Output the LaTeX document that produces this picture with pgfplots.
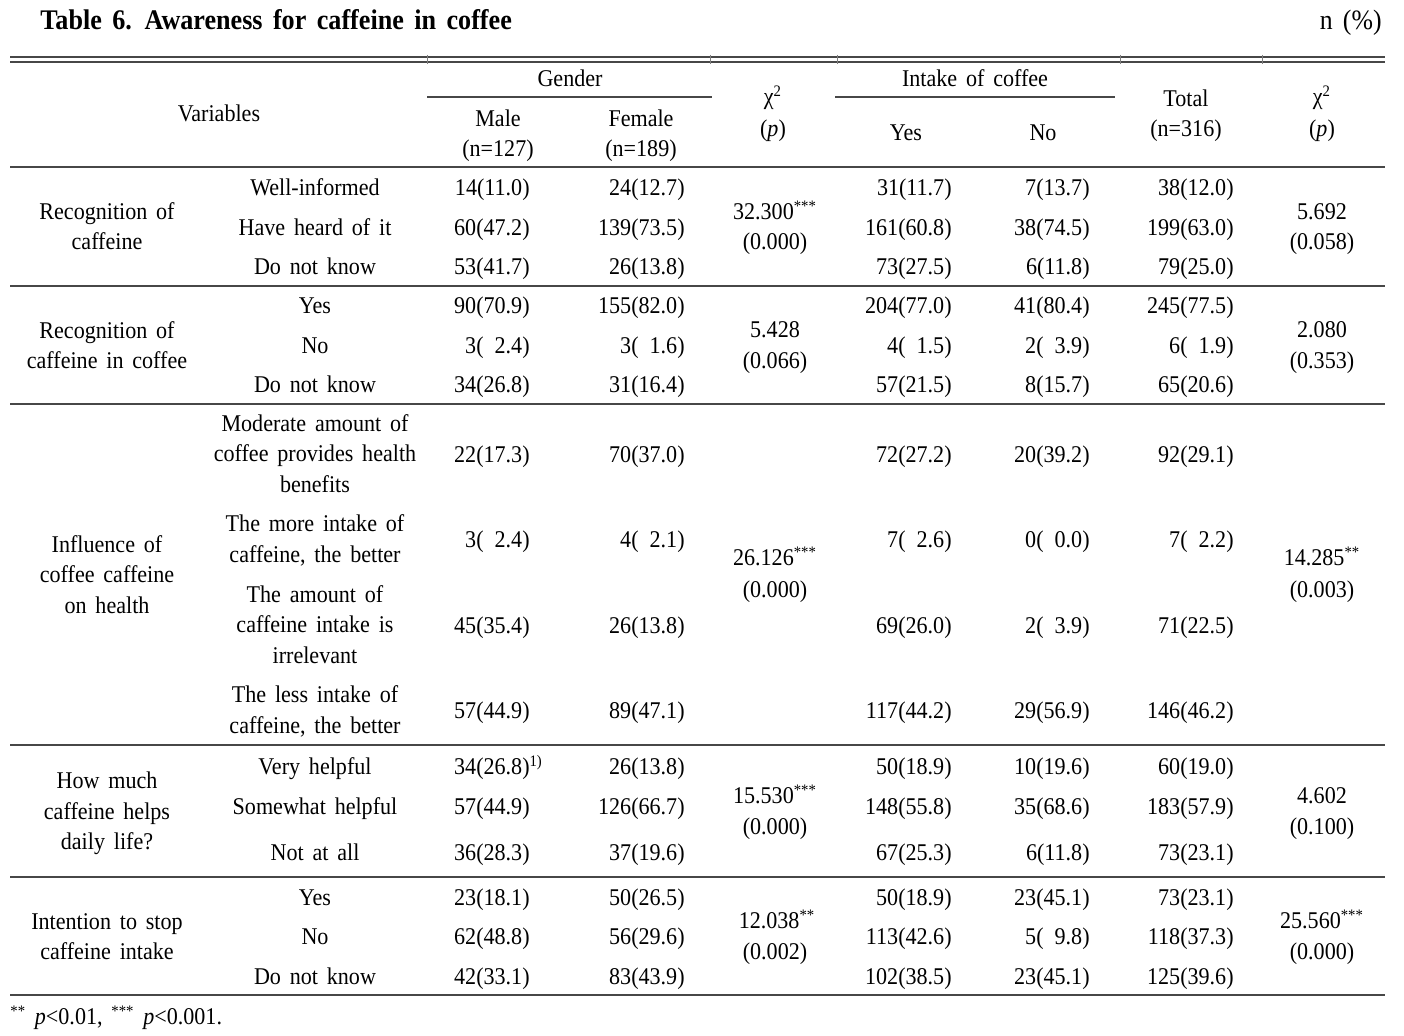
\documentclass[border=0pt]{standalone}
\usepackage{pgfplots}
\pgfplotsset{compat=1.18}
\usepackage{fontspec}
\setmainfont{Liberation Serif}[FakeStretch=0.92, WordSpace=1.6]
\newcommand\tf{\fontsize{12}{14}\selectfont}
\newcommand\su[1]{\textsuperscript{#1}}
\pgfplotsset{
  txt/.style={draw=none, mark=none, nodes near coords, point meta=explicit symbolic,
    every node near coord/.append style={anchor=#1, inner sep=0pt, font=\tf, text=black,
      text height=9pt, text depth=1pt}},
  rule/.style={black!72, line width=#1, mark=none},
}
\begin{document}
\begin{tikzpicture}
\begin{axis}[
  scale only axis, width=702pt, height=518pt,
  xmin=0, xmax=1404, ymin=0, ymax=1036, y dir=reverse,
  axis lines=none, clip=false,
]
\addplot[draw=none, mark=none] coordinates {(0,0) (1404,1036)};
% ---------- rules ----------
\addplot[rule=0.9pt] coordinates {(10,57) (1385,57)};
\addplot[rule=0.9pt] coordinates {(10,62) (1385,62)};
\addplot[black!50, line width=0.5pt] coordinates {(427,55) (427,64)};
\addplot[black!50, line width=0.5pt] coordinates {(710,55) (710,64)};
\addplot[black!50, line width=0.5pt] coordinates {(837,55) (837,64)};
\addplot[black!50, line width=0.5pt] coordinates {(1120,55) (1120,64)};
\addplot[black!50, line width=0.5pt] coordinates {(1262,55) (1262,64)};
\addplot[rule=0.9pt] coordinates {(427,97) (712,97)};
\addplot[rule=0.9pt] coordinates {(835,97) (1115,97)};
\addplot[rule=0.9pt] coordinates {(10,167) (1385,167)};
\addplot[rule=0.9pt] coordinates {(10,286) (1385,286)};
\addplot[rule=0.9pt] coordinates {(10,404) (1385,404)};
\addplot[rule=0.9pt] coordinates {(10,745) (1385,745)};
\addplot[rule=0.9pt] coordinates {(10,877) (1385,877)};
\addplot[rule=1.3pt] coordinates {(10,995) (1385,995)};
% ---------- title ----------
\addplot[txt=west, every node near coord/.append style={font=\fontsize{14.2}{16}\selectfont\bfseries, text height=10.5pt, text depth=1pt}]
  coordinates {(40,20) [Table 6. Awareness for caffeine in coffee]};
\addplot[txt=east, every node near coord/.append style={font=\fontsize{14}{16}\selectfont, text height=10.5pt, text depth=1pt}]
  coordinates {(1382,20) [n (\%)]};
% ---------- header ----------
\addplot[txt=center] coordinates {
  (570,79) [Gender] (975,79) [Intake of coffee] (219,114) [Variables]
  (498,119) [Male] (498,149) [(n=127)] (641,119) [Female] (641,149) [(n=189)]
  (773,97) [χ\su{2}] (773,129) [(\textit{p})]
  (906,133) [Yes] (1043,133) [No]
  (1186,99) [Total] (1186,129) [(n=316)]
  (1322,97) [χ\su{2}] (1322,129) [(\textit{p})]
};
% ---------- group labels ----------
\addplot[txt=center] coordinates {
  (107,212) [Recognition of] (107,242) [caffeine]
  (107,331) [Recognition of] (107,361) [caffeine in coffee]
  (107,545) [Influence of] (107,575) [coffee caffeine] (107,606) [on health]
  (107,781) [How much] (107,812) [caffeine helps] (107,842) [daily life?]
  (107,922) [Intention to stop] (107,952) [caffeine intake]
};
% ---------- sub labels ----------
\addplot[txt=center] coordinates {
  (315,188) [Well-informed] (315,228) [Have heard of it] (315,267) [Do not know]
  (315,306) [Yes] (315,346) [No] (315,385) [Do not know]
  (315,424) [Moderate amount of] (315,454) [coffee provides health] (315,485) [benefits]
  (315,524) [The more intake of] (315,555) [caffeine, the better]
  (315,595) [The amount of] (315,625) [caffeine intake is] (315,656) [irrelevant]
  (315,695) [The less intake of] (315,726) [caffeine, the better]
  (315,767) [Very helpful] (315,807) [Somewhat helpful] (315,853) [Not at all]
  (315,898) [Yes] (315,937) [No] (315,977) [Do not know]
};
% ---------- Male ----------
\addplot[txt=east] coordinates {
  (530,188) [14(11.0)] (530,228) [60(47.2)] (530,267) [53(41.7)]
  (530,306) [90(70.9)] (530,346) [3(\hphantom{0}2.4)] (530,385) [34(26.8)]
  (530,455) [22(17.3)] (530,540) [3(\hphantom{0}2.4)] (530,626) [45(35.4)] (530,711) [57(44.9)]
  (530,767) [34(26.8)\rlap{\su{1)}}] (530,807) [57(44.9)] (530,853) [36(28.3)]
  (530,898) [23(18.1)] (530,937) [62(48.8)] (530,977) [42(33.1)]
};
% ---------- Female ----------
\addplot[txt=east] coordinates {
  (685,188) [24(12.7)] (685,228) [139(73.5)] (685,267) [26(13.8)]
  (685,306) [155(82.0)] (685,346) [3(\hphantom{0}1.6)] (685,385) [31(16.4)]
  (685,455) [70(37.0)] (685,540) [4(\hphantom{0}2.1)] (685,626) [26(13.8)] (685,711) [89(47.1)]
  (685,767) [26(13.8)] (685,807) [126(66.7)] (685,853) [37(19.6)]
  (685,898) [50(26.5)] (685,937) [56(29.6)] (685,977) [83(43.9)]
};
% ---------- chi2 gender ----------
\addplot[txt=center] coordinates {
  (775,212) [32.300\su{***}] (775,242) [(0.000)]
  (775,330) [5.428] (775,361) [(0.066)]
  (775,558) [26.126\su{***}] (775,590) [(0.000)]
  (775,796) [15.530\su{***}] (775,827) [(0.000)]
  (777,921) [12.038\su{**}] (775,952) [(0.002)]
};
% ---------- Yes ----------
\addplot[txt=east] coordinates {
  (952,188) [31(11.7)] (952,228) [161(60.8)] (952,267) [73(27.5)]
  (952,306) [204(77.0)] (952,346) [4(\hphantom{0}1.5)] (952,385) [57(21.5)]
  (952,455) [72(27.2)] (952,540) [7(\hphantom{0}2.6)] (952,626) [69(26.0)] (952,711) [117(44.2)]
  (952,767) [50(18.9)] (952,807) [148(55.8)] (952,853) [67(25.3)]
  (952,898) [50(18.9)] (952,937) [113(42.6)] (952,977) [102(38.5)]
};
% ---------- No ----------
\addplot[txt=east] coordinates {
  (1090,188) [7(13.7)] (1090,228) [38(74.5)] (1090,267) [6(11.8)]
  (1090,306) [41(80.4)] (1090,346) [2(\hphantom{0}3.9)] (1090,385) [8(15.7)]
  (1090,455) [20(39.2)] (1090,540) [0(\hphantom{0}0.0)] (1090,626) [2(\hphantom{0}3.9)] (1090,711) [29(56.9)]
  (1090,767) [10(19.6)] (1090,807) [35(68.6)] (1090,853) [6(11.8)]
  (1090,898) [23(45.1)] (1090,937) [5(\hphantom{0}9.8)] (1090,977) [23(45.1)]
};
% ---------- Total ----------
\addplot[txt=east] coordinates {
  (1234,188) [38(12.0)] (1234,228) [199(63.0)] (1234,267) [79(25.0)]
  (1234,306) [245(77.5)] (1234,346) [6(\hphantom{0}1.9)] (1234,385) [65(20.6)]
  (1234,455) [92(29.1)] (1234,540) [7(\hphantom{0}2.2)] (1234,626) [71(22.5)] (1234,711) [146(46.2)]
  (1234,767) [60(19.0)] (1234,807) [183(57.9)] (1234,853) [73(23.1)]
  (1234,898) [73(23.1)] (1234,937) [118(37.3)] (1234,977) [125(39.6)]
};
% ---------- chi2 intake ----------
\addplot[txt=center] coordinates {
  (1322,212) [5.692] (1322,242) [(0.058)]
  (1322,330) [2.080] (1322,361) [(0.353)]
  (1322,558) [14.285\su{**}] (1322,590) [(0.003)]
  (1322,796) [4.602] (1322,827) [(0.100)]
  (1322,921) [25.560\su{***}] (1322,952) [(0.000)]
};
% ---------- footnote ----------
\addplot[txt=west] coordinates {
  (10,1017) [\su{**} \textit{p}<0.01, \su{***} \textit{p}<0.001.]
};
\end{axis}
\end{tikzpicture}
\end{document}
